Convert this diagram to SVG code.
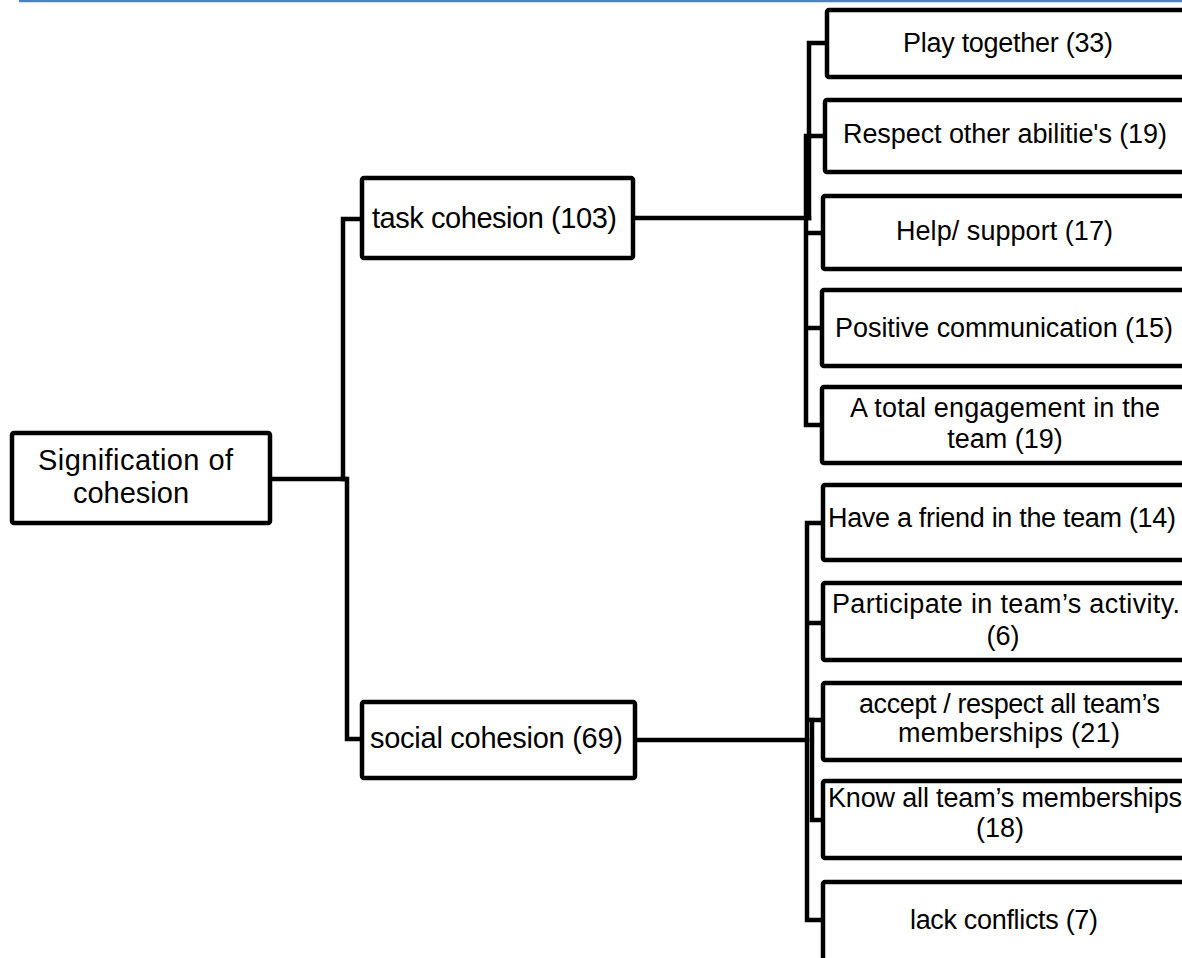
<svg xmlns="http://www.w3.org/2000/svg" width="1182" height="958" viewBox="0 0 1182 958">
<style>
.box{fill:#fff;stroke:#000;stroke-width:4.5;stroke-linejoin:round}
.conn{fill:none;stroke:#000;stroke-width:4.5;stroke-linecap:square;stroke-linejoin:miter}
.t{font-family:"Liberation Sans",Arial,sans-serif;font-size:27px;fill:#000}
.c{text-anchor:middle}
.t2{font-family:"Liberation Sans",Arial,sans-serif;font-size:29px;fill:#000}
</style>
<rect width="1182" height="958" fill="#fff"/>
<line x1="19" y1="1" x2="1182" y2="1" stroke="#4f81bd" stroke-width="2.5"/>
<g id="connectors">
<path class="conn" d="M272,479 H345"/>
<path class="conn" d="M343,219 H360 M343,219 V479"/>
<path class="conn" d="M347,479 V739 H360"/>
<path class="conn" d="M635,218 H809"/>
<path class="conn" d="M809,218 V43 H825"/>
<path class="conn" d="M806,136 V425 M806,136 H823 M806,233 H821 M806,328 H820 M806,425 H820"/>
<path class="conn" d="M637,740 H807"/>
<path class="conn" d="M807,523 V920 M807,523 H821 M807,623 H821 M807,720 H821 M807,920 H821"/>
<path class="conn" d="M812,720 V820 H821"/>
</g>
<g id="root"><rect class="box" x="12" y="433" width="258" height="90" rx="2"/>
<text class="t2" x="38" y="470" textLength="195">Signification of</text>
<text class="t2 c" x="131" y="503">cohesion</text></g>
<g id="task"><rect class="box" x="362" y="178" width="271" height="80" rx="2"/>
<text class="t2" x="372" y="228" textLength="245">task cohesion (103)</text></g>
<g id="social"><rect class="box" x="362" y="702" width="273" height="76" rx="2"/>
<text class="t2" x="370" y="748" textLength="253">social cohesion (69)</text></g>
<g id="play"><rect class="box" x="827" y="10" width="370" height="67" rx="2"/>
<text class="t" x="903" y="52" textLength="210">Play together (33)</text></g>
<g id="respect"><rect class="box" x="825" y="100" width="370" height="72" rx="2"/>
<text class="t" x="843" y="143" textLength="324">Respect other abilitie's (19)</text></g>
<g id="help"><rect class="box" x="823" y="196" width="370" height="73" rx="2"/>
<text class="t" x="896" y="240" textLength="217">Help/ support (17)</text></g>
<g id="positive"><rect class="box" x="822" y="290" width="370" height="76" rx="2"/>
<text class="t" x="835" y="337" textLength="338">Positive communication (15)</text></g>
<g id="engagement"><rect class="box" x="822" y="387" width="370" height="76" rx="2"/>
<text class="t" x="850" y="417" textLength="310">A total engagement in the</text>
<text class="t c" x="1005" y="448">team (19)</text></g>
<g id="friend"><rect class="box" x="823" y="485" width="370" height="75" rx="2"/>
<text class="t" x="828" y="527" textLength="348">Have a friend in the team (14)</text></g>
<g id="participate"><rect class="box" x="823" y="583" width="370" height="77" rx="2"/>
<text class="t" x="832" y="613" textLength="348">Participate in team’s activity.</text>
<text class="t c" x="1003" y="645">(6)</text></g>
<g id="accept"><rect class="box" x="823" y="683" width="370" height="77" rx="2"/>
<text class="t" x="859" y="713" textLength="301">accept / respect all team’s</text>
<text class="t" x="898" y="742" textLength="222">memberships (21)</text></g>
<g id="know"><rect class="box" x="823" y="781" width="370" height="77" rx="2"/>
<text class="t" x="828" y="807" textLength="354">Know all team’s memberships</text>
<text class="t c" x="1000" y="837">(18)</text></g>
<g id="conflicts"><rect class="box" x="823" y="882" width="370" height="100" rx="2"/>
<text class="t" x="910" y="929" textLength="188">lack conflicts (7)</text></g>
</svg>
